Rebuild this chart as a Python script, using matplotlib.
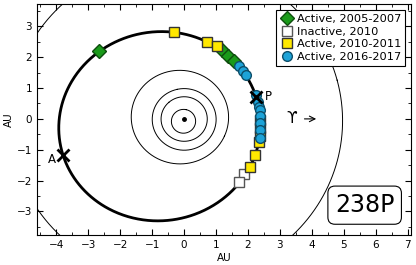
import numpy as np
import matplotlib
matplotlib.use("Agg")
import matplotlib.pyplot as plt

# orbital elements: (a [AU], e, longitude of perihelion [deg])
comet_orbit = (3.165, 0.2527, 17.3)
planet_orbits = {
    "Mercury": (0.387, 0.2056, 77.5),
    "Venus": (0.723, 0.0068, 131.6),
    "Earth": (1.000, 0.0167, 102.9),
    "Mars": (1.524, 0.0934, 336.0),
    "Jupiter": (5.203, 0.0484, 14.7),
}

# observed positions (AU)
green_x = [-2.65, 1.20, 1.38, 1.55]
green_y = [2.19, 2.22, 2.05, 1.88]
white_x = [1.88, 1.72]
white_y = [-1.80, -2.05]
yellow_x = [-0.30, 0.73, 1.02, 2.37, 2.37, 2.37, 2.36, 2.22, 2.06]
yellow_y = [2.81, 2.49, 2.35, -0.05, -0.30, -0.55, -0.75, -1.17, -1.55]
blue_x = [1.72, 1.85, 1.93, 2.25, 2.32, 2.34, 2.37, 2.37, 2.37, 2.37, 2.37]
blue_y = [1.72, 1.57, 1.42, 0.78, 0.56, 0.40, 0.29, 0.08, -0.14, -0.36, -0.63]


def orbit_xy(a, e, varpi, n=720):
    th = np.linspace(0, 2 * np.pi, n)
    r = a * (1 - e**2) / (1 + e * np.cos(th))
    w = np.radians(varpi)
    return r * np.cos(th + w), r * np.sin(th + w)


fig = plt.figure(figsize=(4.16, 2.65), dpi=100)
ax = fig.add_axes([0.089, 0.113, 0.899, 0.872])

for name, (a, e, w) in planet_orbits.items():
    px, py = orbit_xy(a, e, w)
    ax.plot(px, py, color="black", lw=0.7)
ax.plot(0, 0, "o", color="black", ms=2.5)

cx, cy = orbit_xy(*comet_orbit)
ax.plot(cx, cy, color="black", lw=2.0)

ax.plot(green_x, green_y, "D", color="#1a9a1a", mec="#0d4d0d", ms=7, ls="none",
        label="Active, 2005-2007")
ax.plot(white_x, white_y, "s", color="white", mec="#555555", ms=7.5, ls="none",
        label="Inactive, 2010")
ax.plot(yellow_x, yellow_y, "s", color="#ffe800", mec="#333333", ms=7.5, ls="none",
        label="Active, 2010-2011")
ax.plot(blue_x, blue_y, "o", color="#1da3d8", mec="#0d4f6a", ms=7, ls="none",
        label="Active, 2016-2017")

# perihelion and aphelion
a, e, w = comet_orbit
wr = np.radians(w)
q, Q = a * (1 - e), a * (1 + e)
ax.plot(q * np.cos(wr), q * np.sin(wr), "x", color="black", ms=8, mew=2)
ax.plot(-Q * np.cos(wr), -Q * np.sin(wr), "x", color="black", ms=8, mew=2)
ax.text(2.52, 0.72, "P", fontsize=8.5, va="center")
ax.text(-4.0, -1.33, "A", fontsize=8.5, va="center", ha="right")

ax.text(3.37, 0.0, "\u03d2", fontsize=11, va="center", ha="center")
ax.annotate("", xy=(4.22, 0.0), xytext=(3.68, 0.0),
            arrowprops=dict(arrowstyle="->", lw=0.8, color="black"))

ax.text(5.65, -2.8, "238P", fontsize=17, ha="center", va="center",
        bbox=dict(boxstyle="round,pad=0.3", fc="white", ec="black", lw=0.8))

ax.set_xlim(-4.6, 7.1)
ax.set_ylim(-3.77, 3.73)
ax.set_xticks(range(-4, 8))
ax.set_yticks(range(-3, 4))
ax.set_xticks(np.arange(-4.5, 7.1, 0.5), minor=True)
ax.set_yticks(np.arange(-3.5, 3.6, 0.5), minor=True)
ax.tick_params(which="both", direction="in", top=True, right=True, labelsize=7.5)
ax.tick_params(which="major", length=4)
ax.tick_params(which="minor", length=2.5)
ax.set_xticklabels([str(v).replace("-", "\u2212") for v in range(-4, 8)])
ax.set_yticklabels([str(v).replace("-", "\u2212") for v in range(-3, 4)])
ax.set_xlabel("AU", fontsize=7.5, labelpad=2)
ax.set_ylabel("AU", fontsize=7.5, labelpad=2)

leg = ax.legend(loc="upper right", fontsize=8.2, numpoints=1, fancybox=False,
                framealpha=1, edgecolor="black", handletextpad=0.3,
                borderaxespad=0.5, labelspacing=0.25, handlelength=1.2,
                borderpad=0.35)
leg.get_frame().set_linewidth(0.8)

fig.savefig("out.png", dpi=100)
